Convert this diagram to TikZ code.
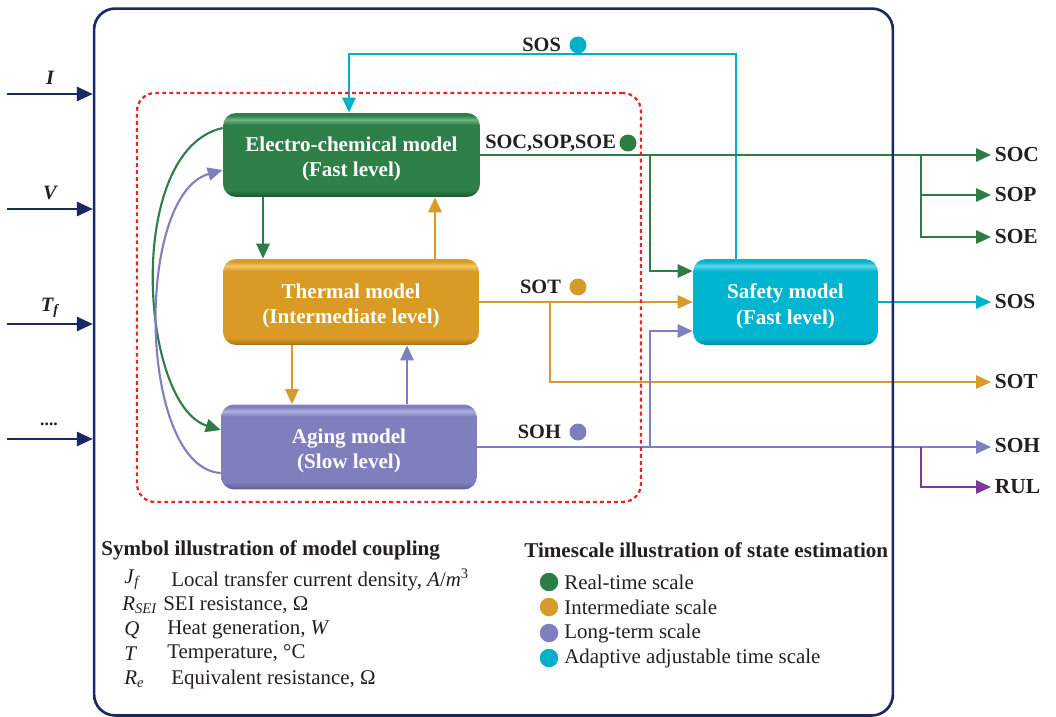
\documentclass[tikz,border=0pt]{standalone}
\usepackage{fontspec}
\setmainfont{Liberation Serif}
\usetikzlibrary{arrows.meta,calc}

% line colours
\definecolor{navy}{HTML}{1B2861}
\definecolor{gcol}{HTML}{2E7D46}
\definecolor{ocol}{HTML}{D69A2D}
\definecolor{pcol}{HTML}{7F7FBF}
\definecolor{ccol}{HTML}{00B0CA}
\definecolor{rcol}{HTML}{7D3A96}
\definecolor{redc}{HTML}{E5262C}
\definecolor{txt}{HTML}{231F20}

% box colours: base, highlight, dark rim
\definecolor{gB}{HTML}{2F7F48}\definecolor{gL}{HTML}{6BB583}\definecolor{gD}{HTML}{1B5530}
\definecolor{oB}{HTML}{D99B26}\definecolor{oL}{HTML}{F2C867}\definecolor{oD}{HTML}{A37016}
\definecolor{pB}{HTML}{7F7FBE}\definecolor{pL}{HTML}{B0B0DE}\definecolor{pD}{HTML}{5B5B96}
\definecolor{cB}{HTML}{00B5CF}\definecolor{cL}{HTML}{66D6E8}\definecolor{cD}{HTML}{008AA0}

\newcommand\mkboxshade[4]{%
  \pgfdeclareverticalshading{#1}{100bp}{color(0bp)=(#4); color(25bp)=(#4);
    color(29bp)=(#2); color(68bp)=(#2); color(71bp)=(#3); color(73.5bp)=(#2);
    color(100bp)=(#2)}}
\mkboxshade{gshade}{gB}{gL}{gD}
\mkboxshade{oshade}{oB}{oL}{oD}
\mkboxshade{pshade}{pB}{pL}{pD}
\mkboxshade{cshade}{cB}{cL}{cD}

\tikzset{
  model/.style={rounded corners=0.26cm, inner sep=0pt},
  modeltext/.style={inner sep=0pt, align=center, text=white,
    font=\bfseries\fontsize{12}{14.6}\selectfont},
  conn/.style={line width=1.2pt},
  arr/.style={-{Triangle[length=8.5pt,width=7.5pt]}},
  outlbl/.style={anchor=west, inner sep=2pt, text=txt,
    font=\bfseries\fontsize{12.2}{14}\selectfont},
  lbl/.style={anchor=east, inner sep=1pt, text=txt,
    font=\bfseries\fontsize{11.6}{13}\selectfont},
  dot/.style={circle, inner sep=0pt, minimum size=0.34cm},
  inlbl/.style={text=txt, inner sep=1pt, font=\bfseries\itshape\fontsize{11.6}{14}\selectfont},
  legtitle/.style={anchor=west, inner sep=0pt, text=txt,
    font=\bfseries\fontsize{12}{14}\selectfont},
  legtxt/.style={anchor=west, inner sep=0pt, text=txt,
    font=\fontsize{11.9}{14}\selectfont},
}

\begin{document}
\begin{tikzpicture}[x=0.02cm, y=-0.02cm]
\useasboundingbox (0,0) rectangle (1056,717);

% ---- model blocks ----
\node[model, shading=gshade, minimum width=5.14cm, minimum height=1.68cm] (ec) at (351.5,155) {};
\node[model, shading=oshade, minimum width=5.12cm, minimum height=1.72cm] (th) at (351,302) {};
\node[model, shading=pshade, minimum width=5.12cm, minimum height=1.70cm] (ag) at (349,447) {};
\node[model, shading=cshade, minimum width=3.70cm, minimum height=1.72cm] (sf) at (785.5,302) {};
\node[modeltext] (ecT) at ([yshift=-0.08cm]ec.center) {Electro-chemical model\\(Fast level)};
\node[modeltext] (thT) at ([yshift=-0.08cm]th.center) {Thermal model\\(Intermediate level)};
\node[modeltext] (agT) at ([yshift=-0.08cm]ag.center) {Aging model\\(Slow level)};
\node[modeltext] (sfT) at ([yshift=-0.08cm]sf.center) {Safety model\\(Fast level)};

% ---- output labels ----
\node[outlbl] (oSOC) at (991,155) {SOC};
\node[outlbl] (oSOP) at (991,195) {SOP};
\node[outlbl] (oSOE) at (991,237) {SOE};
\node[outlbl] (oSOS) at (991,302) {SOS};
\node[outlbl] (oSOT) at (991,382) {SOT};
\node[outlbl] (oSOH) at (991,446) {SOH};
\node[outlbl] (oRUL) at (991,487) {RUL};

% ---- helper coordinates for routing ----
\coordinate (ecth) at (263,0);
\coordinate (thec) at (435,0);
\coordinate (thag) at (292,0);
\coordinate (agth) at (407,0);
\coordinate (sosx) at (349,0);
\coordinate (sfup) at (736,0);
\coordinate (sosy) at (0,54);
\coordinate (busa) at (650,0);
\coordinate (busb) at (921,0);
\coordinate (sotx) at (550,0);
\coordinate (sfa) at (0,271);
\coordinate (sfc) at (0,331);
\coordinate (ecA) at (0,128);
\coordinate (ecB) at (0,170);
\coordinate (agA) at (0,430);
\coordinate (agB) at (0,473);

% ---- couplings between blocks ----
\draw[conn, gcol, arr] (ec.south -| ecth) -- (th.north -| ecth);
\draw[conn, ocol, arr] (th.north -| thec) -- (ec.south -| thec);
\draw[conn, ocol, arr] (th.south -| thag) -- (ag.north -| thag);
\draw[conn, pcol, arr] (ag.north -| agth) -- (th.south -| agth);
\draw[conn, gcol, arr] (ec.west |- ecA) .. controls (124,150) and (140,405) .. (ag.west |- agA);
\draw[conn, pcol, arr] (ag.west |- agB) .. controls (138,468) and (134,195) .. (ec.west |- ecB);

% ---- SOS feedback ----
\draw[conn, ccol, arr] (sf.north -| sfup) -- (sfup |- sosy) -- (sosx |- sosy) -- (ec.north -| sosx);

% ---- state outputs ----
\draw[conn, gcol, arr] (ec.east) -- (oSOC.west);
\draw[conn, gcol, arr] (busa |- ec.east) -- (busa |- sfa) -- (sf.west |- sfa);
\draw[conn, gcol, arr] (busb |- ec.east) -- (busb |- oSOE.west) -- (oSOE.west);
\draw[conn, gcol, arr] (busb |- oSOP.west) -- (oSOP.west);
\draw[conn, ocol, arr] (th.east) -- (sf.west);
\draw[conn, ocol, arr] (sotx |- th.east) -- (sotx |- oSOT.west) -- (oSOT.west);
\draw[conn, ccol, arr] (sf.east) -- (oSOS.west);
\draw[conn, pcol, arr] (ag.east) -- (ag.east -| oSOH.west);
\draw[conn, pcol, arr] (busa |- ag.east) -- (busa |- sfc) -- (sf.west |- sfc);
\draw[conn, rcol, arr] (busb |- ag.east) -- (busb |- oRUL.west) -- (oRUL.west);

% ---- line labels with timescale dots ----
\node[lbl] (lsoc) at (618,143) {SOC,SOP,SOE};
\node[dot, fill=gcol] (dsoc) at (628,143) {};
\node[lbl] (lsos) at (563,45) {SOS};
\node[dot, fill=ccol] (dsos) at (578,45) {};
\node[lbl] (lsot) at (563,287) {SOT};
\node[dot, fill=ocol] (dsot) at (578,287) {};
\node[lbl] (lsoh) at (563,432) {SOH};
\node[dot, fill=pcol] (dsoh) at (578,432) {};

% ---- coupling region ----
\node[draw=redc, line width=1.3pt, dash pattern=on 2.2pt off 1.8pt, rounded corners=0.36cm,
  minimum width=10.08cm, minimum height=8.18cm, inner sep=0pt] (coup) at (389,297.5) {};

% ---- system frame ----
\node[draw=navy, line width=1.5pt, rounded corners=0.42cm,
  minimum width=15.98cm, minimum height=14.14cm, inner sep=0pt] (frame) at (493.5,362) {};

% ---- inputs ----
\coordinate (inI) at (7,94);
\coordinate (inV) at (7,209);
\coordinate (inT) at (7,324);
\coordinate (inX) at (7,439);
\draw[conn, navy, line width=1.4pt, -{Triangle[length=9pt,width=8pt]}] (inI) -- (inI -| frame.west);
\draw[conn, navy, line width=1.4pt, -{Triangle[length=9pt,width=8pt]}] (inV) -- (inV -| frame.west);
\draw[conn, navy, line width=1.4pt, -{Triangle[length=9pt,width=8pt]}] (inT) -- (inT -| frame.west);
\draw[conn, navy, line width=1.4pt, -{Triangle[length=9pt,width=8pt]}] (inX) -- (inX -| frame.west);
\node[inlbl] (lI) at (50,78) {I};
\node[inlbl] (lV) at (50,193) {V};
\node[inlbl] (lT) at (50,308) {T\textsubscript{f}};
\node[inlbl, font=\bfseries\fontsize{10}{12}\selectfont] (lX) at (49,424) {....};

% ---- symbol legend ----
\node[legtitle] (sym) at (101,550) {Symbol illustration of model coupling};
\node[legtxt] (s1) at (124,580) {\textit{J}\textsubscript{\textit{f}}};
\node[legtxt] (d1) at (171,580) {Local transfer current density, \textit{A}/\textit{m}\textsuperscript{3}};
\node[legtxt] (s2) at (122,605) {\textit{R}\textsubscript{\textit{SEI}}};
\node[legtxt] (d2) at (163,605) {SEI resistance, Ω};
\node[legtxt] (s3) at (124,630) {\textit{Q}};
\node[legtxt] (d3) at (167,630) {Heat generation, \textit{W}};
\node[legtxt] (s4) at (124,654) {\textit{T}};
\node[legtxt] (d4) at (167,654) {Temperature, °C};
\node[legtxt] (s5) at (124,679) {\textit{R}\textsubscript{\textit{e}}};
\node[legtxt] (d5) at (171,679) {Equivalent resistance, Ω};

% ---- timescale legend ----
\node[legtitle] (tsc) at (524,550) {Timescale illustration of state estimation};
\node[dot, fill=gcol, minimum size=0.37cm] (k1) at (549,582) {};
\node[legtxt] (e1) at (564,582) {Real-time scale};
\node[dot, fill=ocol, minimum size=0.37cm] (k2) at (549,607) {};
\node[legtxt] (e2) at (564,607) {Intermediate scale};
\node[dot, fill=pcol, minimum size=0.37cm] (k3) at (549,633) {};
\node[legtxt] (e3) at (564,633) {Long-term scale};
\node[dot, fill=ccol, minimum size=0.37cm] (k4) at (549,658) {};
\node[legtxt] (e4) at (564,658) {Adaptive adjustable time scale};
\end{tikzpicture}
\end{document}
